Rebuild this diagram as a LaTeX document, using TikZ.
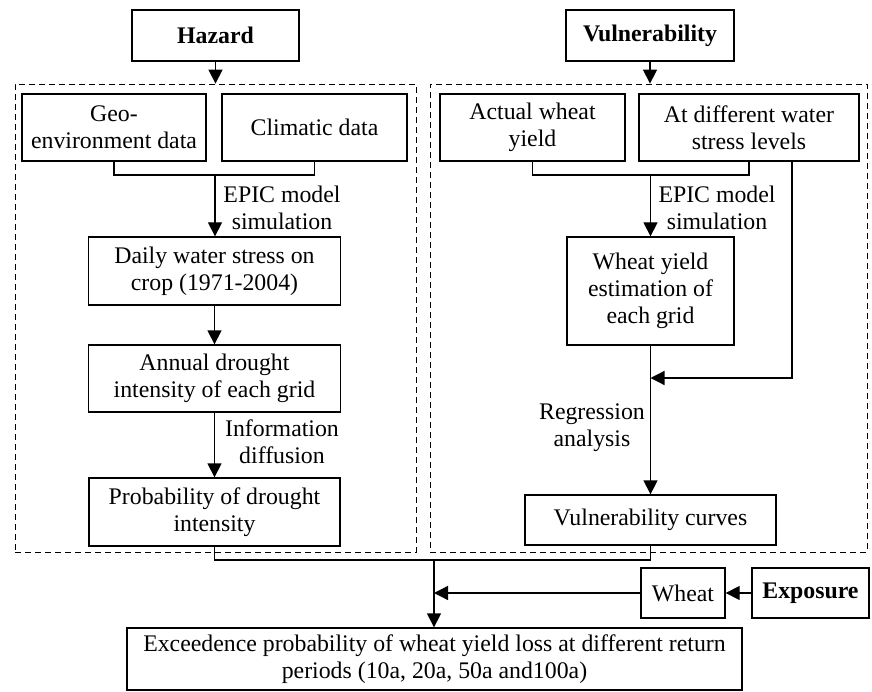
\documentclass[tikz,border=0pt]{standalone}
\usepackage{fontspec}
\setmainfont{Liberation Serif}
\usetikzlibrary{arrows.meta,calc}
\begin{document}
\begin{tikzpicture}[x=1pt,y=-1pt,
  box/.style={draw, line width=1.3pt, inner sep=0pt, align=center, font=\fontsize{23.8}{27}\selectfont},
  grp/.style={draw, line width=0.8pt, dash pattern=on 6pt off 4pt, inner sep=0pt},
  lbl/.style={inner sep=0pt, align=center, font=\fontsize{23.8}{27}\selectfont},
  link/.style={line width=1.3pt},
  arr/.style={line width=1.3pt, -{Triangle[length=14pt,width=14pt]}}]
\useasboundingbox (0,0) rectangle (872,692);
% groups
\node[grp, minimum width=401pt, minimum height=468pt] (hazgrp) at (215.5,318) {};
\node[grp, minimum width=437pt, minimum height=468pt] (vulgrp) at (648.5,318) {};
% top boxes
\node[box, minimum width=167pt, minimum height=51pt] (hazard) at (215.5,35.5) {\textbf{Hazard}};
\node[box, minimum width=168pt, minimum height=51pt] (vuln) at (650,35.5) {\textbf{Vulnerability}};
% hazard side
\node[box, minimum width=184pt, minimum height=67pt] (geo) at (114,127.5) {Geo-\\environment data};
\node[box, minimum width=185pt, minimum height=67pt] (clim) at (314.5,127.5) {Climatic data};
\node[box, minimum width=252pt, minimum height=68pt] (daily) at (214.5,271) {Daily water stress on\\crop (1971-2004)};
\node[box, minimum width=252pt, minimum height=67pt] (annual) at (214.5,378.5) {Annual drought\\intensity of each grid};
\node[box, minimum width=251pt, minimum height=68pt] (prob) at (214.5,512) {Probability of drought\\intensity};
% vulnerability side
\node[box, minimum width=185pt, minimum height=67pt] (actual) at (532.5,127.5) {Actual wheat\\yield};
\node[box, minimum width=220pt, minimum height=67pt] (atdiff) at (749,127.5) {At different water\\stress levels};
\node[box, minimum width=167pt, minimum height=108pt] (wye) at (650.5,291) {Wheat yield\\estimation of\\each grid};
\node[box, minimum width=251pt, minimum height=50pt] (vcurves) at (650.5,520) {Vulnerability curves};
% bottom
\node[box, minimum width=84pt, minimum height=50pt] (wheat) at (683,593) {Wheat};
\node[box, minimum width=117pt, minimum height=50pt] (exposure) at (810.5,593) {\textbf{Exposure}};
\node[box, minimum width=615pt, minimum height=62pt] (exceed) at (434.5,659) {Exceedence probability of wheat yield loss at different return\\periods (10a, 20a, 50a and100a)};
% labels
\node[lbl] (l1) at (282,208) {EPIC model\\simulation};
\node[lbl] (l2) at (282,442) {Information\\diffusion};
\node[lbl] (l3) at (717,208) {EPIC model\\simulation};
\node[lbl] (l4) at (592,428) {Regression\\analysis};
% junctions
\coordinate (j1) at (215,175);
\coordinate (j2) at (650.5,175);
\coordinate (j3) at (650.5,378);
\coordinate (j4) at (434,560);
\coordinate (j5) at (434,593);
% connectors
\draw[arr] (hazard.south) -- (hazard.south |- hazgrp.north);
\draw[arr] (vuln.south) -- (vuln.south |- vulgrp.north);
\draw[link] (geo.south) -- (geo.south |- j1) -| (clim.south);
\draw[arr] (j1) -- (j1 |- daily.north);
\draw[arr] (daily.south) -- (annual.north);
\draw[arr] (annual.south) -- (prob.north);
\draw[link] (actual.south) -- (actual.south |- j2) -| (atdiff.south);
\draw[arr] (j2) -- (j2 |- wye.north);
\draw[arr] ([xshift=43pt]atdiff.south) |- (j3);
\draw[arr] (wye.south) -- (vcurves.north);
\draw[link] (prob.south) -- (prob.south |- j4) -| (vcurves.south);
\draw[arr] (j4) -- (j4 |- exceed.north);
\draw[arr] (exposure.west) -- (wheat.east);
\draw[arr] (wheat.west) -- (j5);
\end{tikzpicture}
\end{document}
